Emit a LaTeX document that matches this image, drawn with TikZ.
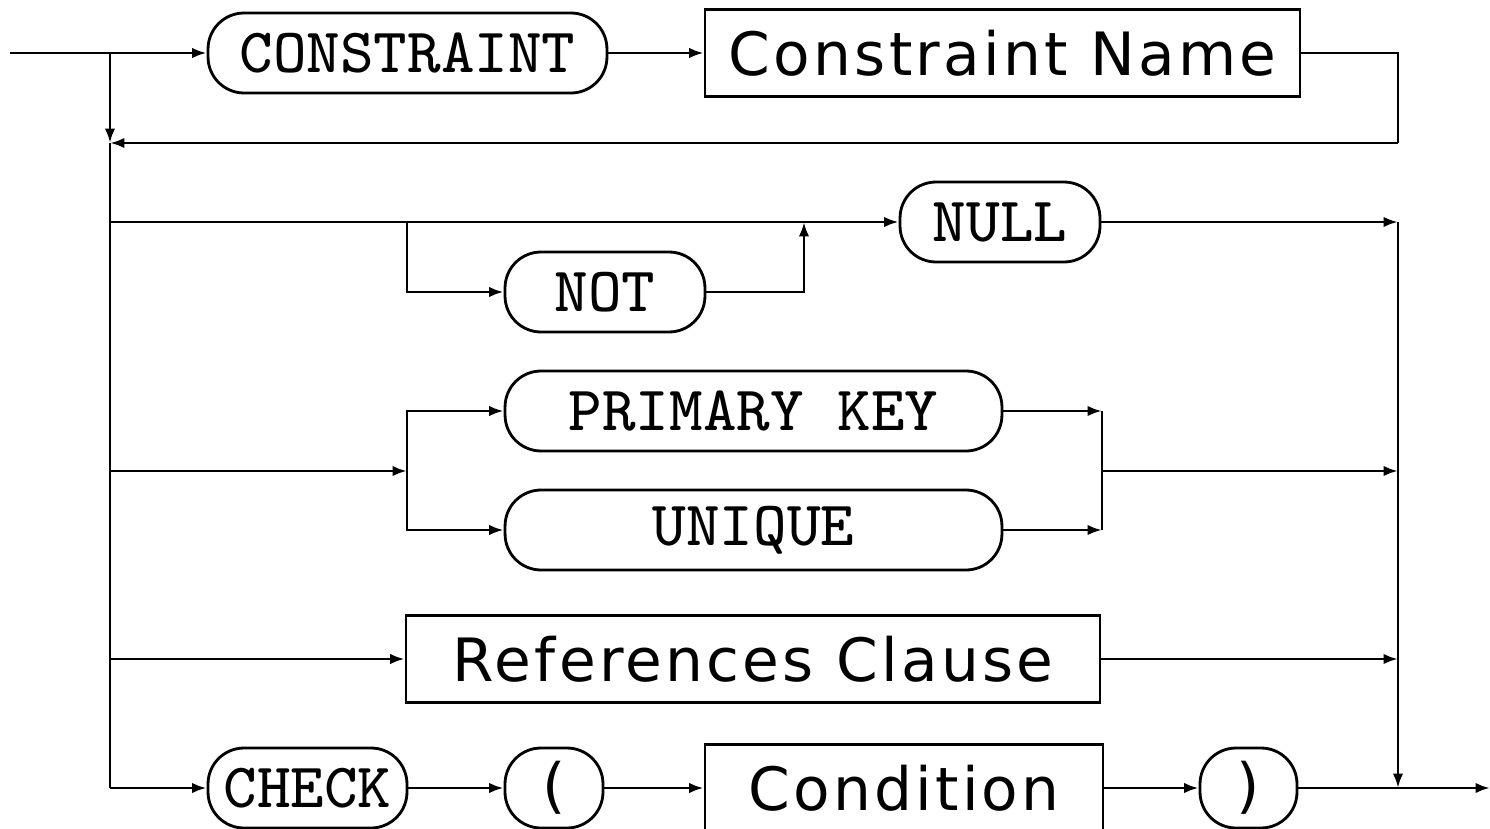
\documentclass[tikz,border=0pt]{standalone}
\usepackage{fontspec}
\newfontfamily\railsans{DejaVu Sans}[LetterSpace=5.5]
\newfontfamily\railtt{lmmono8-regular.otf}
\usetikzlibrary{arrows.meta}
\begin{document}
\begin{tikzpicture}[x=0.02cm, y=-0.02cm, line width=1.6pt,
  kw/.style={draw, rounded corners=0.72cm, inner sep=0pt, minimum height=1.6cm,
             font=\railtt\fontsize{36}{40}\selectfont},
  par/.style={draw, rounded corners=0.72cm, inner sep=0pt, minimum height=1.6cm,
             font=\railsans\fontsize{34}{40}\selectfont},
  nt/.style={draw, inner sep=0pt, minimum height=1.75cm,
             font=\railsans\fontsize{34}{40}\selectfont},
  arr/.style={-{Latex[length=0.29cm,width=0.21cm]}}]
\useasboundingbox (0,0) rectangle (1490,828);

% terminals and non-terminals
\node[kw, minimum width=7.98cm] (cons) at (407.5,53) {CONSTRAINT};
\node[nt, minimum width=11.9cm] (cname) at (1002.5,53) {Constraint Name};
\node[kw, minimum width=4cm] (null) at (1000,222) {NULL};
\node[kw, minimum width=4cm] (not) at (605,292) {NOT};
\node[kw, minimum width=9.94cm] (pk) at (753.5,411) {PRIMARY KEY};
\node[kw, minimum width=9.94cm] (uq) at (753.5,530) {UNIQUE};
\node[nt, minimum width=13.88cm] (ref) at (753,659) {References Clause};
\node[kw, minimum width=3.98cm] (check) at (307.5,788) {CHECK};
\node[par, minimum width=1.96cm] (lp) at (554,788) {(};
\node[nt, minimum width=7.96cm] (cond) at (904,788) {Condition};
\node[par, minimum width=1.94cm] (rp) at (1248.5,788) {)};

% junction points
\coordinate (in) at (10,53);
\coordinate (l1) at (110,53);
\coordinate (l2) at (110,143);
\coordinate (l3) at (110,222);
\coordinate (l4) at (110,471);
\coordinate (l5) at (110,659);
\coordinate (l6) at (110,788);
\coordinate (r1) at (1398,53);
\coordinate (r2) at (1398,143);
\coordinate (r3) at (1398,222);
\coordinate (r4) at (1398,471);
\coordinate (r5) at (1398,659);
\coordinate (r6) at (1398,788);
\coordinate (out) at (1490,788);
\coordinate (nb) at (407,222);
\coordinate (nj) at (804,222);
\coordinate (kb) at (407,471);
\coordinate (kt) at (1102,411);
\coordinate (ku) at (1102,530);
\coordinate (km) at (1102,471);

% optional constraint name
\draw (in) -- (l1);
\draw[arr] (l1) -- (cons.west);
\draw[arr] (cons.east) -- (cname.west);
\draw (cname.east) -- (r1) -- (r2);
\draw[arr] (r2) -- (l2);
\draw[arr] (l1) -- (l2);
\draw (l2) -- (l6);

% [NOT] NULL
\draw[arr] (l3) -- (null.west);
\draw[arr] (nb) |- (not.west);
\draw[arr] (not.east) -| (nj);
\draw[arr] (null.east) -- (r3);

% PRIMARY KEY | UNIQUE
\draw[arr] (l4) -- (kb);
\draw[arr] (kb) |- (pk.west);
\draw[arr] (kb) |- (uq.west);
\draw[arr] (pk.east) -- (kt);
\draw[arr] (uq.east) -- (ku);
\draw (kt) -- (ku);
\draw[arr] (km) -- (r4);

% references clause
\draw[arr] (l5) -- (ref.west);
\draw[arr] (ref.east) -- (r5);

% CHECK ( condition )
\draw[arr] (l6) -- (check.west);
\draw[arr] (check.east) -- (lp.west);
\draw[arr] (lp.east) -- (cond.west);
\draw[arr] (cond.east) -- (rp.west);
\draw[arr] (rp.east) -- (out);

% right collector
\draw[arr] (r3) -- (r6);
\end{tikzpicture}
\end{document}
